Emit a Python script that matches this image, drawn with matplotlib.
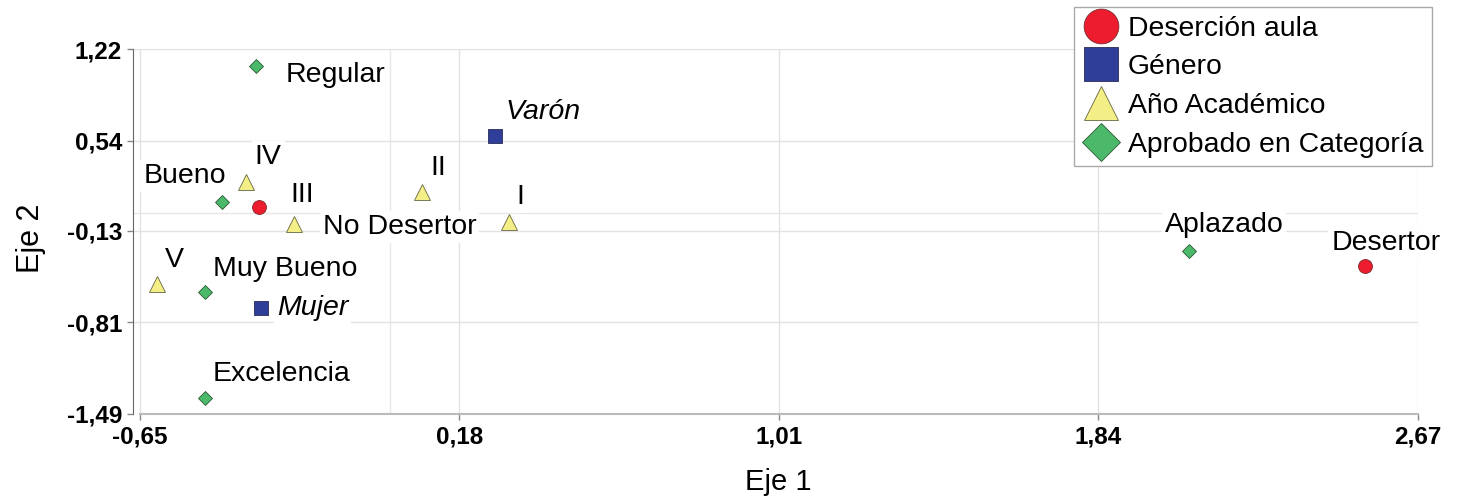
import matplotlib.pyplot as plt
from matplotlib.lines import Line2D

plt.rcParams['font.family'] = ['Liberation Sans', 'DejaVu Sans']

# category coordinates (Eje 1, Eje 2)
desercion_names = ["No Desertor", "Desertor"]
desercion_x = [-0.341, 2.532]
desercion_y = [0.049, -0.389]

genero_names = ["Varón", "Mujer"]
genero_x = [0.272, -0.336]
genero_y = [0.576, -0.705]

anio_names = ["I", "II", "III", "IV", "V"]
anio_x = [0.308, 0.083, -0.249, -0.375, -0.605]
anio_y = [-0.067, 0.156, -0.079, 0.230, -0.527]

aprob_names = ["Regular", "Bueno", "Muy Bueno", "Excelencia", "Aplazado"]
aprob_x = [-0.348, -0.437, -0.481, -0.481, 2.075]
aprob_y = [1.096, 0.084, -0.584, -1.369, -0.277]

xticks = [-0.65, 0.18, 1.01, 1.84, 2.67]
yticks = [-1.49, -0.81, -0.13, 0.54, 1.22]
legend_labels = ["Deserción aula", "Género", "Año Académico", "Aprobado en Categoría"]

# label offsets in pixels (dx, dy, ha)
lab_off = {
    "No Desertor": (64, -20, "left"), "Desertor": (21, 23, "center"),
    "Varón": (11, 24, "left"), "Mujer": (16, 0, "left"),
    "I": (12, 25, "center"), "II": (8, 24, "left"), "III": (-4, 29, "left"),
    "IV": (9, 25, "left"), "V": (17, 24, "center"),
    "Regular": (29, -9, "left"), "Bueno": (4, 26, "right"),
    "Muy Bueno": (8, 23, "left"), "Excelencia": (8, 24, "left"),
    "Aplazado": (35, 26, "center"),
}

red, blue, yellow, green = "#ED1C2E", "#2F3F99", "#F3EE85", "#4CB96A"

fig = plt.figure(figsize=(14.57, 4.96), dpi=100)
ax = fig.add_axes([133 / 1457, 1 - 414 / 496, 1285 / 1457, 365 / 496])

ax.plot(desercion_x, desercion_y, ls="none", marker="o", ms=10, mfc=red, mec="#7a2a2a", mew=0.6, zorder=3)
ax.plot(genero_x, genero_y, ls="none", marker="s", ms=9.5, mfc=blue, mec="#2a2a55", mew=0.6, zorder=3)
ax.plot(anio_x, anio_y, ls="none", marker="^", ms=11, mfc=yellow, mec="#666644", mew=0.6, zorder=3)
ax.plot(aprob_x, aprob_y, ls="none", marker="D", ms=7.5, mfc=green, mec="#2a5a35", mew=0.6, zorder=3)

groups = [(desercion_names, desercion_x, desercion_y, "normal"),
          (genero_names, genero_x, genero_y, "italic"),
          (anio_names, anio_x, anio_y, "normal"),
          (aprob_names, aprob_x, aprob_y, "normal")]
for names, xs, ys, style in groups:
    for n, x, y in zip(names, xs, ys):
        dx, dy, ha = lab_off[n]
        ax.annotate(n, (x, y), xytext=(dx, dy), textcoords="offset pixels",
                    ha=ha, va="center", fontsize=20.5, style=style, zorder=4,
                    bbox=dict(boxstyle="square,pad=0.1", fc="white", ec="none"))

ax.set_xlim(-0.668, 2.67)
ax.set_ylim(-1.49, 1.22)
ax.set_xticks(xticks)
ax.set_yticks(yticks)
ax.set_xticklabels([f"{v:.2f}".replace(".", ",") for v in xticks], fontweight="bold", fontsize=17.5)
ax.set_yticklabels([f"{v:.2f}".replace(".", ",") for v in yticks], fontweight="bold", fontsize=17.5)
for v in [0.0]:
    ax.axvline(v, color="#e8e8e8", lw=1, zorder=0)
    ax.axhline(v, color="#e8e8e8", lw=1, zorder=0)
ax.grid(True, color="#e2e2e2", lw=1, zorder=0)
ax.set_axisbelow(True)
ax.tick_params(length=4, width=1, color="#888888", pad=4)
ax.spines["top"].set_visible(False)
ax.spines["right"].set_visible(False)
ax.spines["left"].set_color("#666666")
ax.spines["bottom"].set_color("#bbbbbb")
ax.spines["bottom"].set_linewidth(1.5)
ax.spines["bottom"].set_bounds(-0.65, 2.67)

ax.set_xlabel("Eje 1", fontsize=21)
ax.set_ylabel("Eje 2", fontsize=22)
ax.xaxis.set_label_coords(0.502, -0.148)
ax.yaxis.set_label_coords(-0.068, 0.482)

handles = [
    Line2D([], [], ls="none", marker="o", ms=25, mfc=red, mec="#7a2a2a", mew=0.6),
    Line2D([], [], ls="none", marker="s", ms=24, mfc=blue, mec="#2a2a55", mew=0.6),
    Line2D([], [], ls="none", marker="^", ms=25, mfc=yellow, mec="#666644", mew=0.6),
    Line2D([], [], ls="none", marker="D", ms=19, mfc=green, mec="#2a5a35", mew=0.6),
]
leg = fig.legend(handles, legend_labels, loc="upper right", bbox_to_anchor=(1432 / 1457, 1 - 7 / 496),
                 fontsize=20.4, frameon=True, fancybox=False, framealpha=1, edgecolor="#aaaaaa",
                 handlelength=1.3, handletextpad=0.3, labelspacing=0.45, borderpad=0.3, borderaxespad=0)
leg.get_frame().set_linewidth(1)

fig.savefig("out.png", dpi=100)
